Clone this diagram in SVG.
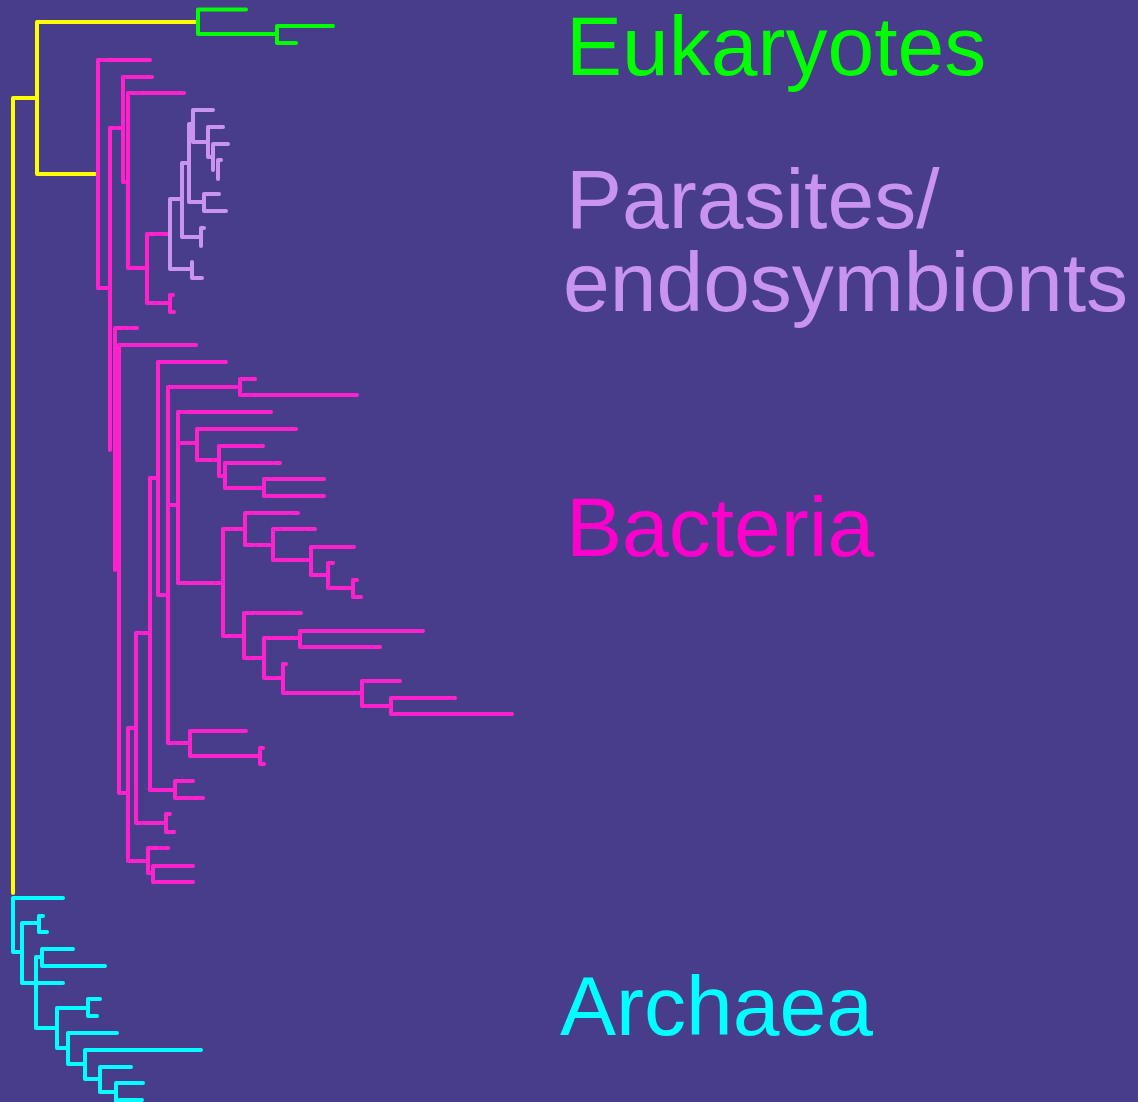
<svg xmlns="http://www.w3.org/2000/svg" width="1138" height="1102" viewBox="0 0 1138 1102">
<style>
.br{fill:none;stroke-width:4;stroke-linecap:round;stroke-linejoin:round}
.y{stroke:#FFFF00}.g{stroke:#00FF00}.p{stroke:#FF22CC}.l{stroke:#C994F0}.c{stroke:#00FFFF}
.lab{font-family:"Liberation Sans",Arial,sans-serif;font-size:84px}
</style>
<rect width="1138" height="1102" fill="#483D8B"/>
<g id="connectors">
<path id="root" class="br y" d="M13 893 V98 H37 M37 22 V174 H97 M37 22 H198"/>
<g id="eukaryotes-tree"><path class="br g" d="M246 9.5 H198 V34 H277 M333 26 H277 V43 H296"/></g>
<g id="bacteria-tree"><path class="br p" d="M150 60 H98 V288 H110 M110 128 V450 M110 128 H123 M152 77 H123 V182 H128 M184 93 H128 V268 H147 M167 234 H147 V303 H170 M173 295 H170 V312 H174 M137 328 H115 V570 M196 345 H119 V793 H127 M226 362 H158 V595 H168 M158 478 H150 V790 H175 M193 781 H175 V798 H203 M168 387 V743 H190 M168 387 H240 M255 379 H240 V395 H357 M168 505 H178 M271 412 H178 V583 H223 M178 443 H197 M296 429 H197 V460 H219 M263 446 H219 V476 H225 M280 463 H225 V488 H264 M324 479 H264 V496 H324 M245 529 H223 V636 H244 M298 513 H245 V545 H273 M315 529 H273 V560 H311 M354 547 H311 V575 H328 M333 563 H328 V588 H353 M357 580 H353 V597 H361 M301 613 H244 V658 H264 M300 638 H264 V678 H283 M423 631 H300 V647 H380 M286 664 H283 V693 H362 M400 681 H362 V706 H391 M455 698 H391 V714 H512 M246 731 H190 V756 H260 M263 748 H260 V764 H264 M150 633 H136 V823 H166 M170 814 H166 V832 H174 M136 728 H128 V861 H148 M168 848 H148 V873 H153 M193 866 H153 V882 H193"/></g>
<g id="parasites-tree"><path class="br l" d="M182 199 H170 V269 H192 M192 262 V278 H202 M188 163 H182 V237 H201 M204 228 H201 V246 M193 124 H189 V202 H204 M213 110 H193 V142 H208 M223 127 H208 V157 H213 M228 144 H213 V170 M221 160 H218 V179 M219 194 H204 V211 H226"/></g>
<g id="archaea-tree"><path class="br c" d="M63 898 H13 V952 H21 M43 916 H39 V932 H47 M39 923 H22 V983 H63 M42 957 H36 V1028 H57 M73 949 H42 V966 H105 M88 1008 H57 V1048 H68 M100 999 H88 V1016 H97 M117 1033 H68 V1064 H85 M201 1050 H85 V1079 H100 M131 1067 H100 V1092 H116 M143 1083 H116 V1104 M116 1100 H142"/></g>
</g>
<g id="eukaryotes"><text class="lab" x="566" y="75" fill="#00FF00">Eukaryotes</text></g>
<g id="parasites"><text class="lab" x="566" y="228" fill="#C994F0">Parasites/</text><text class="lab" x="563" y="311" fill="#C994F0">endosymbionts</text></g>
<g id="bacteria"><text class="lab" x="566" y="556" fill="#FF00CC">Bacteria</text></g>
<g id="archaea"><text class="lab" x="560" y="1035" fill="#00FFFF">Archaea</text></g>
</svg>
